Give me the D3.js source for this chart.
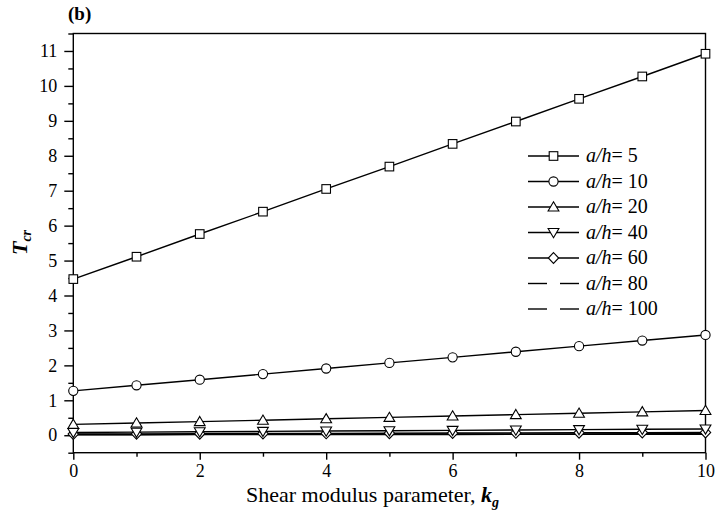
<!DOCTYPE html>
<html>
<head>
<meta charset="utf-8">
<script src="https://cdn.jsdelivr.net/npm/d3@7"></script>
<style>
  html, body { margin: 0; padding: 0; background: #fff; }
  svg { display: block; }
</style>
</head>
<body>
<svg id="chart" width="716" height="513"></svg>
<script>
// Shear modulus parameter k_g
const kg = [0, 1, 2, 3, 4, 5, 6, 7, 8, 9, 10];

// Critical buckling temperature T_cr for each aspect ratio a/h
const ratios = [5, 10, 20, 40, 60, 80, 100];
const tcr5   = [4.47, 5.11, 5.76, 6.40, 7.05, 7.69, 8.34, 8.98, 9.63, 10.27, 10.92];
const tcr10  = [1.27, 1.43, 1.59, 1.75, 1.91, 2.07, 2.23, 2.39, 2.55, 2.71, 2.87];
const tcr20  = [0.31, 0.35, 0.39, 0.43, 0.47, 0.51, 0.55, 0.59, 0.63, 0.67, 0.71];
const tcr40  = [0.08, 0.09, 0.10, 0.11, 0.12, 0.13, 0.14, 0.15, 0.16, 0.17, 0.18];
const tcr60  = [0.035, 0.040, 0.044, 0.049, 0.053, 0.058, 0.062, 0.067, 0.071, 0.076, 0.080];
const tcr80  = [0.020, 0.022, 0.025, 0.027, 0.030, 0.032, 0.035, 0.037, 0.040, 0.042, 0.045];
const tcr100 = [0.013, 0.015, 0.016, 0.018, 0.019, 0.021, 0.023, 0.024, 0.026, 0.027, 0.029];
const seriesValues = [tcr5, tcr10, tcr20, tcr40, tcr60, tcr80, tcr100];
const markerKinds = ["square", "circle", "triangle", "triangleDown", "diamond", "none", "none"];

const xTicks = [0, 2, 4, 6, 8, 10];
const yTicks = [0, 1, 2, 3, 4, 5, 6, 7, 8, 9, 10, 11];

const FONT = "'Liberation Serif', 'Times New Roman', serif";

const svg = d3.select("#chart");
const plot = { left: 73.3, right: 705.5, top: 33.5, bottom: 452.7 };

const x = d3.scaleLinear().domain([0, 10]).range([plot.left, plot.right]);
const y = d3.scaleLinear().domain([-0.5, 11.5]).range([plot.bottom, plot.top]);

// Frame
svg.append("rect")
  .attr("x", plot.left).attr("y", plot.top)
  .attr("width", plot.right - plot.left).attr("height", plot.bottom - plot.top)
  .attr("fill", "none").attr("stroke", "#000").attr("stroke-width", 1.4);

// Bottom axis: labelled majors on even values, minors on odd
const xAxis = d3.axisBottom(x).tickValues(xTicks).tickSize(7).tickPadding(5).tickFormat(d3.format("d"));
const gx = svg.append("g").attr("transform", `translate(0,${plot.bottom})`).call(xAxis);
const xMinor = d3.axisBottom(x).tickValues(d3.range(1, 10, 2)).tickSize(4).tickFormat("");
const gxm = svg.append("g").attr("transform", `translate(0,${plot.bottom})`).call(xMinor);

// Left axis: labelled majors on integers, minors on halves
const yAxis = d3.axisLeft(y).tickValues(yTicks).tickSize(9).tickPadding(7).tickFormat(d3.format("d"));
const gy = svg.append("g").attr("transform", `translate(${plot.left},0)`).call(yAxis);
const yMinor = d3.axisLeft(y).tickValues(d3.range(-0.5, 11.6, 1)).tickSize(5).tickFormat("");
const gym = svg.append("g").attr("transform", `translate(${plot.left},0)`).call(yMinor);

[gx, gxm, gy, gym].forEach(g => {
  g.select(".domain").remove();
  g.selectAll(".tick line").attr("stroke", "#000").attr("stroke-width", 1.4);
  g.selectAll(".tick text").attr("font-size", 18).attr("fill", "#000");
});

// Marker drawing
function drawMarker(g, kind, cx, cy) {
  const s = "#000", w = 1.1;
  if (kind === "square") {
    g.append("rect").attr("x", cx - 4.3).attr("y", cy - 4.3).attr("width", 8.6).attr("height", 8.6)
      .attr("fill", "#fff").attr("stroke", s).attr("stroke-width", w);
  } else if (kind === "circle") {
    g.append("circle").attr("cx", cx).attr("cy", cy).attr("r", 4.6)
      .attr("fill", "#fff").attr("stroke", s).attr("stroke-width", w);
  } else if (kind === "triangle") {
    g.append("path").attr("d", `M${cx},${cy - 5.2}L${cx + 5.4},${cy + 4}L${cx - 5.4},${cy + 4}Z`)
      .attr("fill", "#fff").attr("stroke", s).attr("stroke-width", w);
  } else if (kind === "triangleDown") {
    g.append("path").attr("d", `M${cx},${cy + 5.2}L${cx + 5.4},${cy - 4}L${cx - 5.4},${cy - 4}Z`)
      .attr("fill", "#fff").attr("stroke", s).attr("stroke-width", w);
  } else if (kind === "diamond") {
    g.append("path").attr("d", `M${cx},${cy - 5.4}L${cx + 5.2},${cy}L${cx},${cy + 5.4}L${cx - 5.2},${cy}Z`)
      .attr("fill", "#fff").attr("stroke", s).attr("stroke-width", w);
  }
}

const line = d3.line().x((d, i) => x(kg[i])).y(d => y(d));

// Series lines (drawn from the largest ratio upward so markers sit on top)
const seriesG = svg.append("g");
for (let s = seriesValues.length - 1; s >= 0; s--) {
  seriesG.append("path").datum(seriesValues[s]).attr("d", line)
    .attr("fill", "none").attr("stroke", "#000").attr("stroke-width", 1.4);
}
for (let s = seriesValues.length - 1; s >= 0; s--) {
  seriesValues[s].forEach((v, i) => drawMarker(seriesG, markerKinds[s], x(kg[i]), y(v)));
}

// Legend
const legend = svg.append("g");
const legX0 = 528, legX1 = 579, legMid = 553.5, legTextX = 586, legY0 = 156, legDy = 25.5;
ratios.forEach((r, i) => {
  const ly = legY0 + i * legDy;
  if (markerKinds[i] === "none") {
    legend.append("line").attr("x1", legX0).attr("x2", legX0 + 19).attr("y1", ly).attr("y2", ly)
      .attr("stroke", "#000").attr("stroke-width", 1.4);
    legend.append("line").attr("x1", legX1 - 19).attr("x2", legX1).attr("y1", ly).attr("y2", ly)
      .attr("stroke", "#000").attr("stroke-width", 1.4);
  } else {
    legend.append("line").attr("x1", legX0).attr("x2", legX1).attr("y1", ly).attr("y2", ly)
      .attr("stroke", "#000").attr("stroke-width", 1.4);
    drawMarker(legend, markerKinds[i], legMid, ly);
  }
  const t = legend.append("text").attr("x", legTextX).attr("y", ly + 6).attr("font-size", 20);
  t.append("tspan").attr("font-style", "italic").text("a/h");
  t.append("tspan").text("= " + r);
});

// Axis titles
const xt = svg.append("text").attr("x", 372.5).attr("y", 502).attr("text-anchor", "middle").attr("font-size", 22);
xt.append("tspan").text("Shear modulus parameter, ");
xt.append("tspan").attr("font-weight", "bold").attr("font-style", "italic").text("k");
xt.append("tspan").attr("font-weight", "bold").attr("font-style", "italic").attr("font-size", 14).attr("dy", 5).text("g");

const yt = svg.append("text").attr("transform", "translate(27,242.5) rotate(-90)")
  .attr("text-anchor", "middle").attr("font-size", 22).attr("font-weight", "bold").attr("font-style", "italic");
yt.append("tspan").text("T");
yt.append("tspan").attr("font-size", 14).attr("dy", 4).text("cr");

// Panel label
svg.append("text").attr("x", 68).attr("y", 20).attr("font-size", 19).attr("font-weight", "bold").text("(b)");

// Serif face and black fill for every label
svg.selectAll("text").style("font-family", FONT).style("fill", "#000");
</script>
</body>
</html>
